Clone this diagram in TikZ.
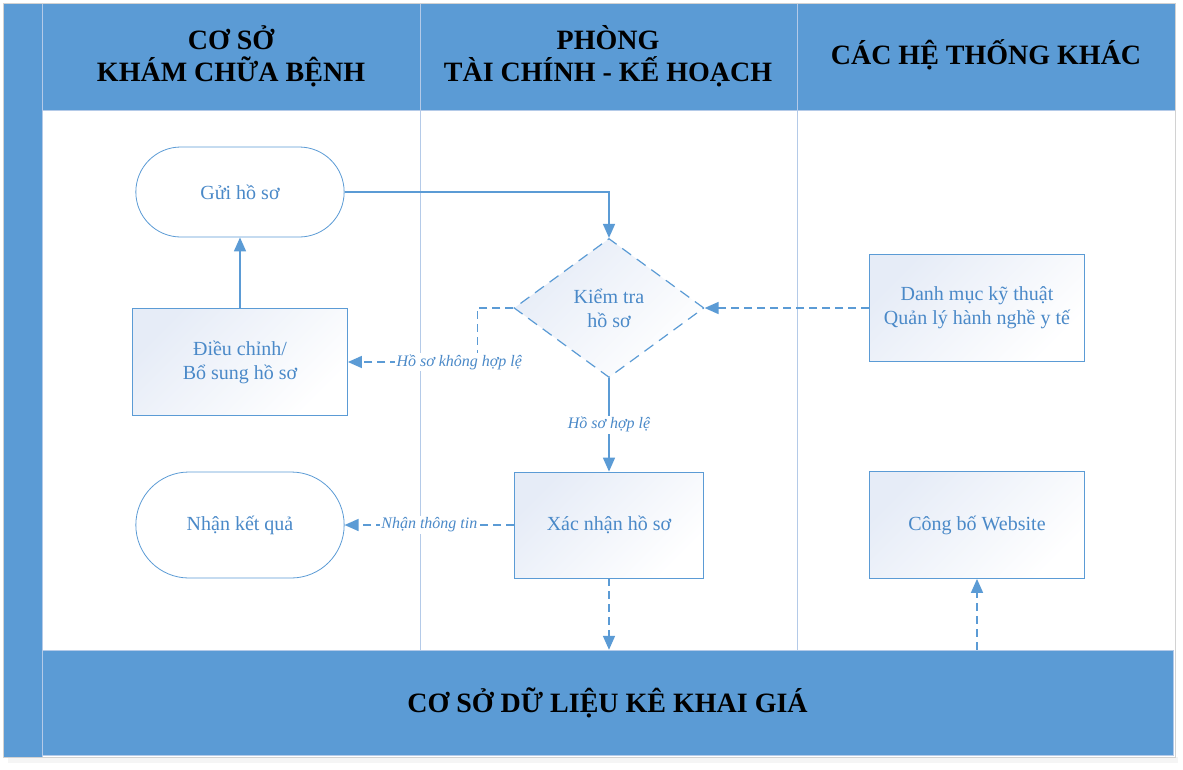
\documentclass[tikz,border=0pt]{standalone}
\usepackage{fontspec}
\setmainfont{Liberation Serif}
\usetikzlibrary{arrows.meta,shapes.geometric,shapes.misc,positioning}
\definecolor{lanefill}{HTML}{5B9BD5}
\definecolor{flowline}{HTML}{5B9BD5}
\definecolor{flowtext}{HTML}{4A89C8}
\definecolor{laneline}{HTML}{B4CAE8}
\definecolor{boxshade}{HTML}{E6ECF7}

\begin{document}
\begin{tikzpicture}[x=1pt,y=-1pt,
    lanehead/.style={align=center,text=black,font=\fontsize{28}{32}\selectfont\bfseries},
    stepbox/.style={draw=flowline,line width=0.8pt,top color=boxshade,bottom color=white,shading angle=45,
      minimum width=215pt,minimum height=107pt,align=center,text=flowtext,font=\fontsize{20}{24}\selectfont},
    endcap/.style={rounded rectangle,draw=flowline,line width=0.8pt,fill=white,
      minimum width=215pt,align=center,text=flowtext,font=\fontsize{20}{24}\selectfont},
    decide/.style={diamond,draw=flowline,line width=1.2pt,dash pattern=on 11pt off 7pt,
      top color=boxshade,bottom color=white,shading angle=45,inner sep=0pt,
      minimum width=190pt,minimum height=139pt,align=center,text=flowtext,font=\fontsize{20}{24}\selectfont},
    flow/.style={draw=flowline,line width=1.6pt,-{Triangle[length=14pt,width=12pt]}},
    flowdash/.style={flow,dash pattern=on 8pt off 5pt},
    flowlabel/.style={fill=white,inner sep=1.5pt,text=flowtext,font=\fontsize{16}{18}\selectfont\itshape}]
  \useasboundingbox (0,0) rectangle (1183,769);
  \fill[gray!8] (8,757) rectangle (1178,763);
  \fill[lanefill] (3,3) rectangle (42,757);
  \fill[lanefill] (42,3) rectangle (1175,110);
  \draw[laneline] (42,3) -- (42,757);
  \draw[laneline] (42,110) -- (1175,110);
  \draw[laneline,line width=1pt] (420,3) -- (420,650);
  \draw[laneline,line width=1pt] (797,3) -- (797,650);
  \draw[gray!35] (3,3) rectangle (1175,757);

  \node[lanehead] (hcoso) at (231,56) {CƠ SỞ\\KHÁM CHỮA BỆNH};
  \node[lanehead] (htaichinh) at (608,56) {PHÒNG\\TÀI CHÍNH - KẾ HOẠCH};
  \node[lanehead] (hkhac) at (986,55) {CÁC HỆ THỐNG KHÁC};

  \node[draw=laneline,fill=lanefill,minimum width=1131pt,minimum height=105pt,
    font=\fontsize{28}{32}\selectfont\bfseries] (csdl) at (607.5,702.5) {CƠ SỞ DỮ LIỆU KÊ KHAI GIÁ};

  \node[endcap,minimum height=90pt] (gui) at (240,192) {Gửi hồ sơ};
  \node[stepbox] (dieuchinh) at (240,362) {Điều chỉnh/\\Bổ sung hồ sơ};
  \node[endcap,minimum height=106pt] (nhankq) at (240,525) {Nhận kết quả};
  \node[decide] (kiemtra) at (609,308) {Kiểm tra\\hồ sơ};
  \node[stepbox,minimum width=189pt,minimum height=106pt] (xacnhan) at (609,525) {Xác nhận hồ sơ};
  \node[stepbox] (danhmuc) at (977,308) {Danh mục kỹ thuật\\Quản lý hành nghề y tế};
  \node[stepbox] (congbo) at (977,525) {Công bố Website};

  \coordinate[left=36pt of kiemtra.west] (trave);

  \draw[flow] (gui.east) -| (kiemtra.north);
  \draw[flow] (dieuchinh.north) -- (gui.south);
  \draw[flowdash] (kiemtra.west) -- (trave) |- (dieuchinh.east)
    node[flowlabel,pos=0.57] {Hồ sơ không hợp lệ};
  \draw[flow] (kiemtra.south) -- (xacnhan.north) node[flowlabel,midway] {Hồ sơ hợp lệ};
  \draw[flowdash] (danhmuc.west) -- (kiemtra.east);
  \draw[flowdash] (xacnhan.west) -- (nhankq.east) node[flowlabel,midway] {Nhận thông tin};
  \draw[flowdash] (xacnhan.south) -- (xacnhan.south |- csdl.north);
  \draw[flowdash] (csdl.north -| congbo.south) -- (congbo.south);
\end{tikzpicture}
\end{document}
